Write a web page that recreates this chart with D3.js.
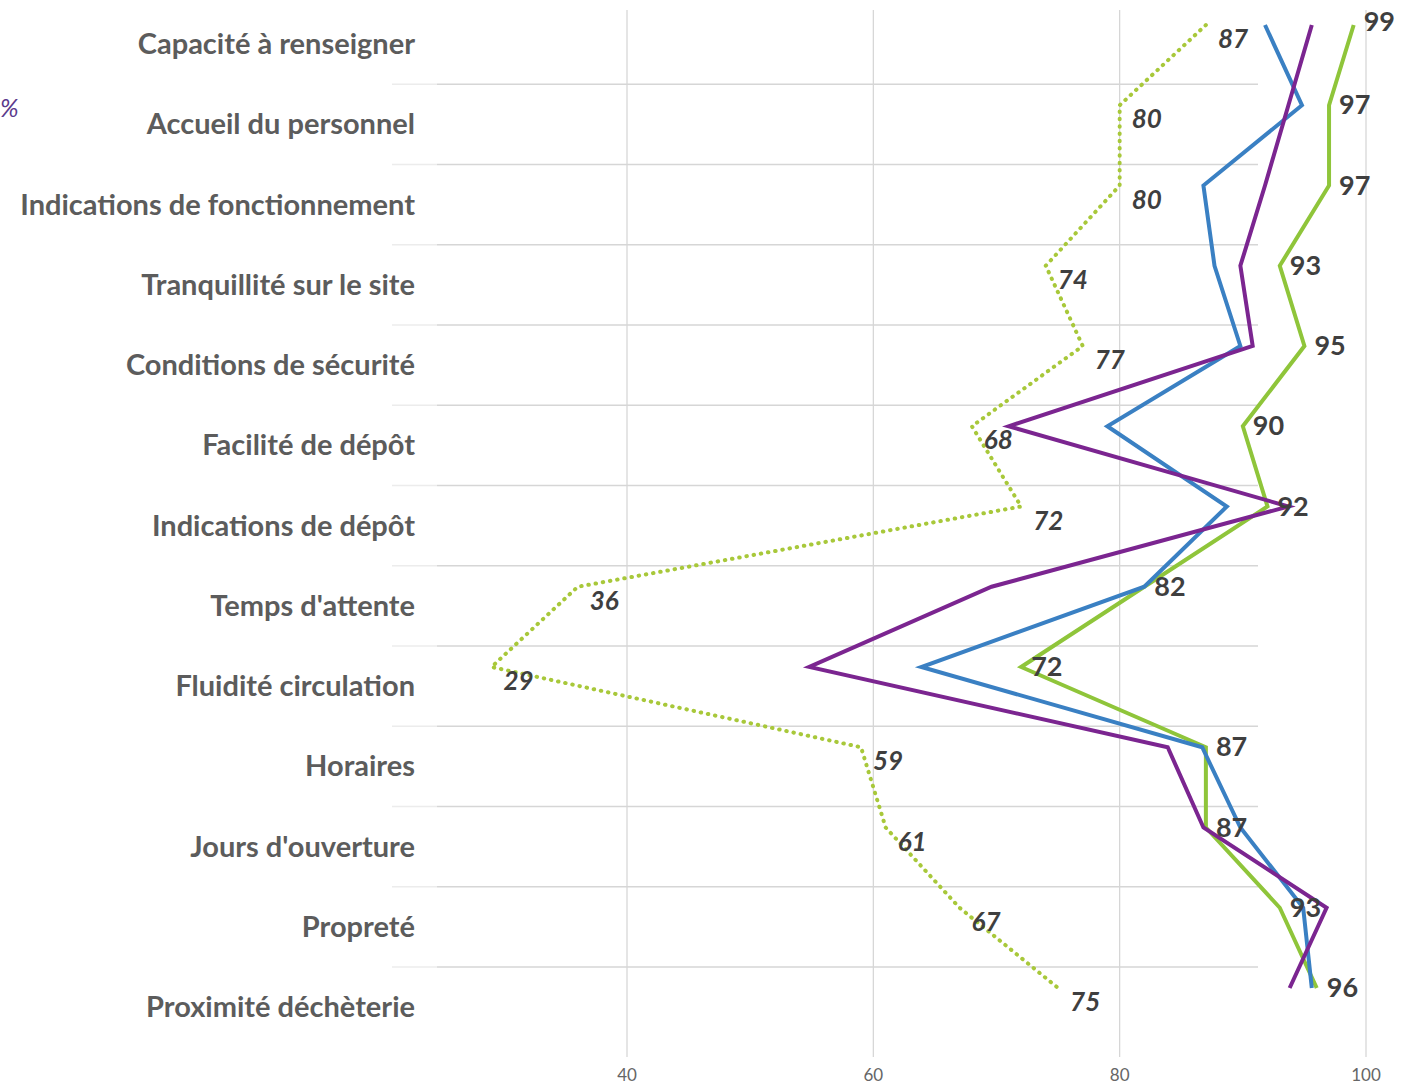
<!DOCTYPE html>
<html>
<head>
<meta charset="utf-8">
<script src="https://cdn.jsdelivr.net/npm/d3@7"></script>
<style>
  body { margin: 0; background: #fff; }
  svg { display: block; }
</style>
</head>
<body>
<svg id="chart" width="1403" height="1084"></svg>
<script>
const categories = [
  "Capacité à renseigner", "Accueil du personnel", "Indications de fonctionnement",
  "Tranquillité sur le site", "Conditions de sécurité", "Facilité de dépôt",
  "Indications de dépôt", "Temps d'attente", "Fluidité circulation", "Horaires",
  "Jours d'ouverture", "Propreté", "Proximité déchèterie"
];
const dottedVals = [87, 80, 80, 74, 77, 68, 72, 36, 29, 59, 61, 67, 75];
const greenVals = [99, 97, 97, 93, 95, 90, 92, 82, 72, 87, 87, 93, 96];
const blueVals = [91.8, 94.8, 86.8, 87.7, 89.8, 79, 88.7, 82, 63.9, 86.7, 89.8, 94.9, 95.6];
const purpleVals = [95.6, 93.7, 91.8, 89.8, 90.8, 71, 93.7, 69.6, 54.8, 83.9, 86.8, 96.8, 93.8];
const xTicks = [40, 60, 80, 100];

const svg = d3.select("#chart");
const font = "Lato, 'Open Sans', sans-serif";

const x = d3.scaleLinear().domain([40, 100]).range([627, 1366]);
const y = d3.scalePoint().domain(categories).range([25, 988]);
const step = y.step();

// vertical gridlines
svg.append("g")
  .selectAll("line")
  .data(xTicks)
  .join("line")
  .attr("x1", d => x(d)).attr("x2", d => x(d))
  .attr("y1", 10).attr("y2", 1057)
  .attr("stroke", "#d4d4d4")
  .attr("stroke-width", 1.2);

// tick labels
svg.append("g")
  .selectAll("text")
  .data(xTicks)
  .join("text")
  .attr("x", d => x(d))
  .attr("y", 1081)
  .attr("text-anchor", "middle")
  .attr("font-family", font)
  .attr("font-size", 17)
  .attr("fill", "#666")
  .text(d => d);

// row separators (faint stub, then the line proper)
const seps = svg.append("g");
seps.selectAll("line.stub")
  .data(categories.slice(0, -1))
  .join("line")
  .attr("class", "stub")
  .attr("x1", 392).attr("x2", 437)
  .attr("y1", d => y(d) + 19 + step / 2)
  .attr("y2", d => y(d) + 19 + step / 2)
  .attr("stroke", "#ececec")
  .attr("stroke-width", 1.5);
seps.selectAll("line.sep")
  .data(categories.slice(0, -1))
  .join("line")
  .attr("class", "sep")
  .attr("x1", 437).attr("x2", 1258)
  .attr("y1", d => y(d) + 19 + step / 2)
  .attr("y2", d => y(d) + 19 + step / 2)
  .attr("stroke", "#d6d6d6")
  .attr("stroke-width", 1.5);

// category labels
svg.append("g")
  .selectAll("text")
  .data(categories)
  .join("text")
  .attr("x", 415)
  .attr("y", d => y(d) + 29)
  .attr("text-anchor", "end")
  .attr("font-family", font)
  .attr("font-weight", 700)
  .attr("font-size", 29)
  .attr("fill", "#5c5c5c")
  .text(d => d);

// stray legend fragment
svg.append("text")
  .attr("x", 0).attr("y", 117)
  .attr("font-family", font)
  .attr("font-style", "italic")
  .attr("font-size", 25)
  .attr("fill", "#5b3a8c")
  .text("%");

const line = d3.line()
  .x(d => x(d))
  .y((d, i) => y(categories[i]));

const series = [
  { vals: dottedVals, color: "#a8c83a", dash: "0.5 6.8", cap: "round" },
  { vals: greenVals, color: "#8fc53a", dash: null, cap: "butt" },
  { vals: blueVals, color: "#3a80c3", dash: null, cap: "butt" },
  { vals: purpleVals, color: "#7b2590", dash: null, cap: "butt" }
];

svg.append("g")
  .selectAll("path")
  .data(series)
  .join("path")
  .attr("d", d => line(d.vals))
  .attr("fill", "none")
  .attr("stroke", d => d.color)
  .attr("stroke-width", 4)
  .attr("stroke-linejoin", "miter")
  .attr("stroke-linecap", d => d.cap)
  .attr("stroke-dasharray", d => d.dash);

// value labels, dotted series (italic)
svg.append("g")
  .selectAll("text")
  .data(dottedVals)
  .join("text")
  .attr("x", d => x(d) + 12)
  .attr("y", (d, i) => y(categories[i]) + 23)
  .attr("font-family", font)
  .attr("font-weight", 700)
  .attr("font-style", "italic")
  .attr("font-size", 26)
  .attr("fill", "#3f3f3f")
  .text(d => d);

// value labels, solid green series
svg.append("g")
  .selectAll("text")
  .data(greenVals)
  .join("text")
  .attr("x", d => x(d) + 10)
  .attr("y", (d, i) => y(categories[i]) + 9 - (i === 0 ? 3 : 0))
  .attr("font-family", font)
  .attr("font-weight", 700)
  .attr("font-size", 27)
  .attr("fill", "#3f3f3f")
  .text(d => d);
</script>
</body>
</html>
